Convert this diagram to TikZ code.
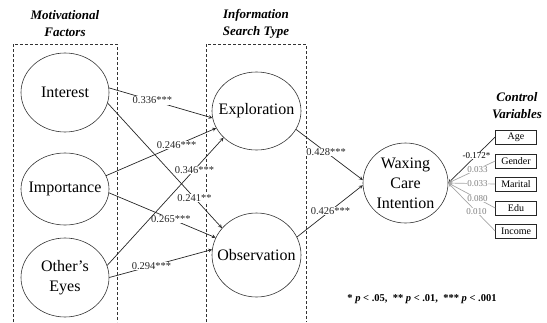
\documentclass[tikz,border=0pt]{standalone}
\usepackage{fontspec}
\setmainfont{Liberation Serif}
\usepackage{tikz}
\usetikzlibrary{shapes, arrows, positioning, calc, shapes.geometric}

\begin{document}
\begin{tikzpicture}[
    x=1pt, y=-1pt,
    >=stealth,
    arrow/.style={->,line width=0.7pt,black!85},
    weak/.style={->,line width=0.7pt,gray!70},
    latent/.style={ellipse,draw=black!80,line width=0.6pt,minimum width=88pt,minimum height=78pt,
                   inner xsep=-8pt,inner ysep=0pt,align=center,font=\fontsize{16}{20}\selectfont},
    control/.style={rectangle,draw=black!85,semithick,minimum width=41pt,minimum height=14pt,
                    inner sep=1pt,font=\fontsize{10}{12}\selectfont},
    coef/.style={fill=white,inner sep=0.5pt,font=\fontsize{10.5}{12}\selectfont},
    ctrlcoef/.style={fill=white,inner sep=0.5pt,text=gray,font=\fontsize{9}{10}\selectfont},
    heading/.style={align=center,font=\fontsize{13}{17}\selectfont\bfseries\itshape},
    group/.style={densely dashed,thin,black!80}
]
\useasboundingbox (0,0) rectangle (547,322);

%--------------------------------------------------------------------
% Left: motivational factors
%--------------------------------------------------------------------
\node[heading] (hmot) at (65,24) {Motivational\\Factors};
\draw[group] (13,322) |- (117,44) -- (117,322);

\node[latent,minimum height=79pt] (int) at (65,92.5) {Interest};
\node[latent,minimum height=72pt] (imp) at (65,189)  {Importance};
\node[latent,minimum height=79pt] (oth) at (65,277.5) {Other's\\Eyes};

%--------------------------------------------------------------------
% Middle: information search type
%--------------------------------------------------------------------
\node[heading] (hsearch) at (256,24) {Information\\Search Type};
\draw[group] (206,322) |- (306,44) -- (306,322);

\node[latent,minimum width=89pt] (expl) at (256.5,111) {Exploration};
\node[latent,minimum width=89pt,minimum height=84pt] (obs) at (256.5,255) {Observation};

%--------------------------------------------------------------------
% Right: outcome and control variables
%--------------------------------------------------------------------
\node[latent,minimum width=85pt,minimum height=80pt] (wci) at (405.5,183) {Waxing\\Care\\Intention};

\node[heading] (hctrl) at (517,106) {Control\\Variables};
\node[control] (age)  at (516,137) {Age};
\node[control] (gen)  at (516,161) {Gender};
\node[control] (mar)  at (516,184) {Marital};
\node[control] (edu)  at (516,208) {Edu};
\node[control] (inc)  at (516,231) {Income};

% Paths from motivational factors
\draw[arrow] (int.6)   -- node[coef,pos=0.42] {0.336***} (expl.189);
\draw[arrow] (int.-14) -- node[coef,pos=0.76] {0.241**}  (obs.142);
\draw[arrow] (imp.18)  -- node[coef,pos=0.64] {0.246***} (expl.203);
\draw[arrow] (imp.-5)  -- node[coef,pos=0.58] {0.265***} (obs.157);
\draw[arrow] (oth.16)  -- node[coef,pos=0.75] {0.346***} (expl.219);
\draw[arrow] (oth.0)   -- node[coef,pos=0.41] {0.294***} (obs.173);

% Paths to intention
\draw[arrow] (expl.-25) -- node[coef,pos=0.45] {0.428***} (wci.176);
\draw[arrow] (obs.24)   -- node[coef,pos=0.51] {0.426***} (wci.183);

% Control paths
\draw[arrow] (age.west) -- node[ctrlcoef,text=black,pos=0.4] {-0.172*} (wci.east);
\draw[weak]  (gen.west) -- node[ctrlcoef,pos=0.38] {0.033} (wci.east);
\draw[weak]  (mar.west) -- node[ctrlcoef,pos=0.38] {0.033} (wci.east);
\draw[weak]  (edu.west) -- node[ctrlcoef,pos=0.38] {0.080} (wci.east);
\draw[weak]  (inc.west) -- node[ctrlcoef,pos=0.4]  {0.010} (wci.east);

% Significance note
\node[font=\fontsize{10.5}{12}\selectfont\bfseries] (note) at (422,299)
    {* \textit{p} < .05,\enspace ** \textit{p} < .01,\enspace *** \textit{p} < .001};

\end{tikzpicture}
\end{document}
